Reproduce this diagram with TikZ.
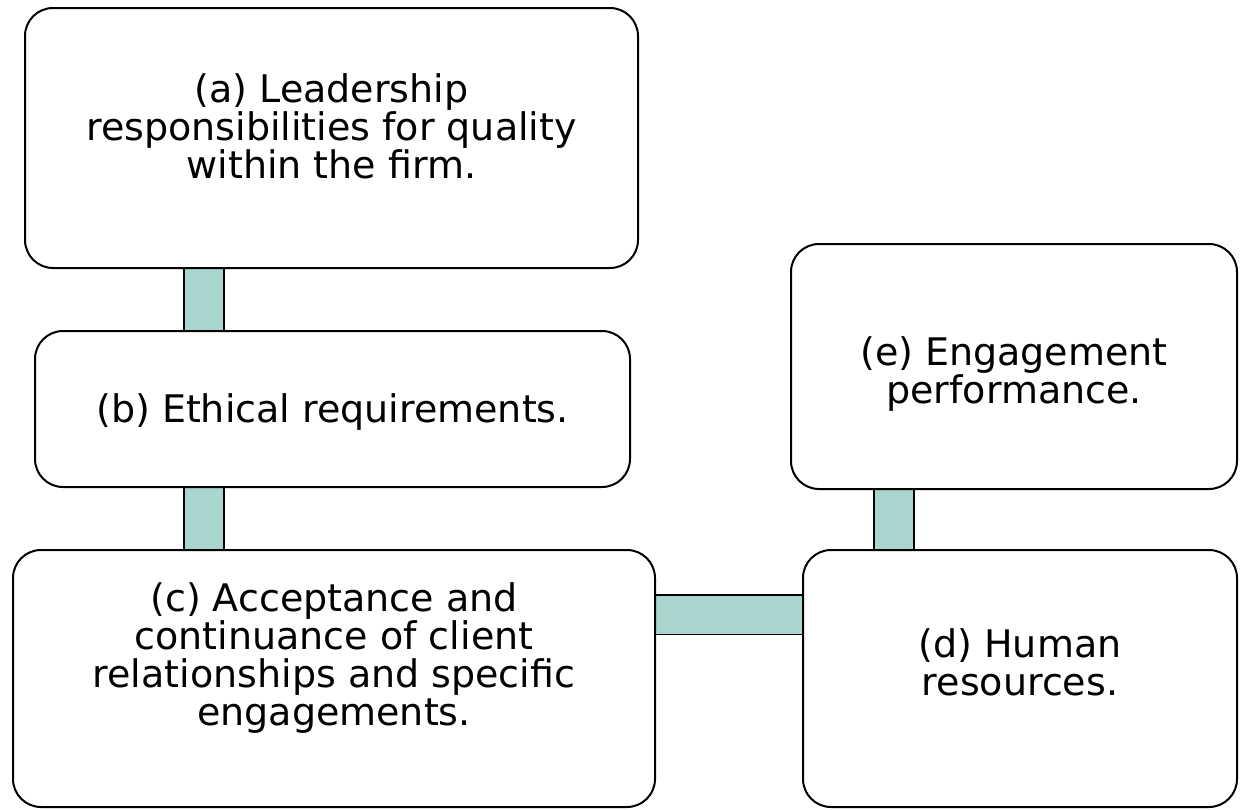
\documentclass[tikz,border=0pt]{standalone}
\usepackage{fontspec}
\setmainfont{DejaVu Sans}
\usepackage{tikz}
\usetikzlibrary{backgrounds}
\definecolor{linkfill}{RGB}{169,213,207}

\begin{document}
\begin{tikzpicture}[x=1pt,y=-1pt,
  box/.style={draw=black,fill=white,line width=2pt,rounded corners=28pt},
  lbl/.style={align=center,font=\fontsize{38}{38}\selectfont},
  link/.style={draw=black,line width=1.8pt,double=linkfill,double distance=38pt}]
\useasboundingbox (0,0) rectangle (1240,809);

\node[box,minimum width=613pt,minimum height=260pt] (a) at (331.5,138) {};
\node[box,minimum width=595pt,minimum height=156pt] (b) at (332.5,409) {};
\node[box,minimum width=642pt,minimum height=257pt] (c) at (334,678.5) {};
\node[box,minimum width=434pt,minimum height=257pt] (d) at (1020,678.5) {};
\node[box,minimum width=446pt,minimum height=245pt] (e) at (1014,366.5) {};

\node[lbl] at ([yshift=12pt]a.center) {(a) Leadership\\responsibilities for quality\\within the firm.};
\node[lbl] at ([yshift=-3pt]b.center) {(b) Ethical requirements.};
\node[lbl] at ([yshift=20pt]c.center) {(c) Acceptance and\\continuance of client\\relationships and specific\\engagements.};
\node[lbl] at ([yshift=16pt]d.center) {(d) Human\\resources.};
\node[lbl] at ([yshift=-8pt]e.center) {(e) Engagement\\performance.};

\begin{scope}[on background layer]
\draw[link] ([xshift=180pt]a.south west) -- ([xshift=170pt]b.north west);
\draw[link] ([xshift=170pt]b.south west) -- ([xshift=192pt]c.north west);
\draw[link] ([yshift=64pt]c.east) -- ([yshift=64pt]d.west);
\draw[link] ([xshift=104pt]e.south west) -- ([xshift=92pt]d.north west);
\end{scope}
\end{tikzpicture}
\end{document}
